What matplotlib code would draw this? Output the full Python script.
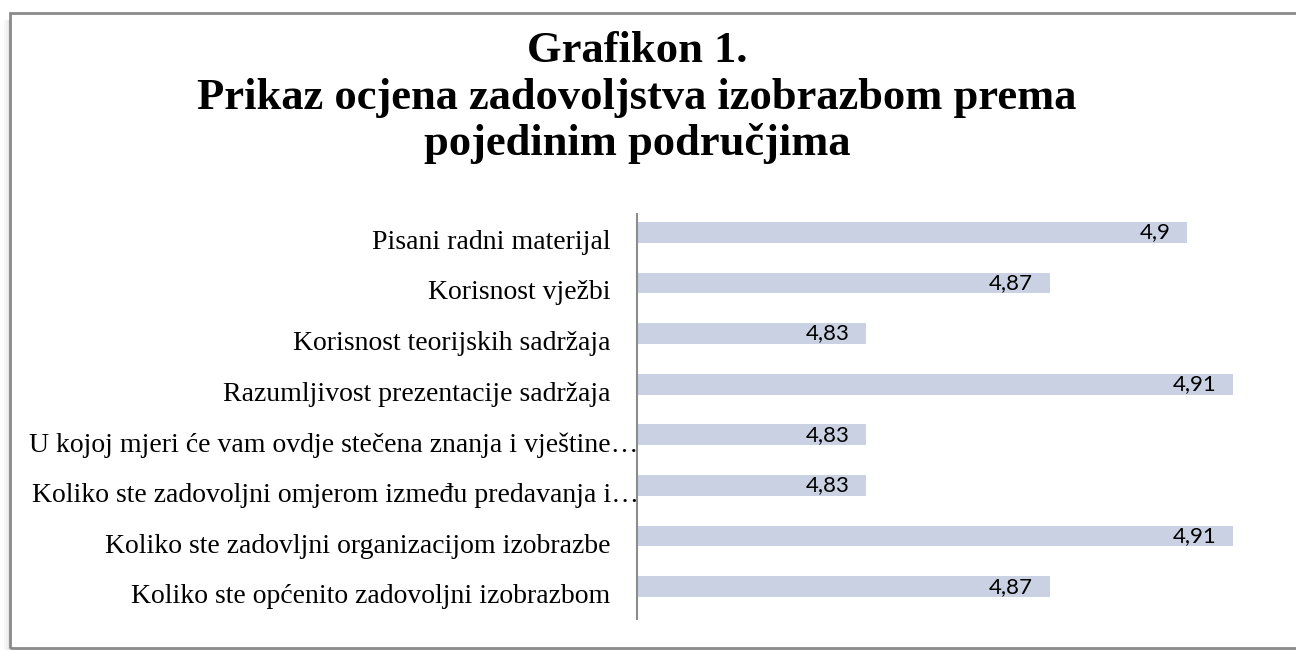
import matplotlib
matplotlib.use("Agg")
import matplotlib.pyplot as plt
from matplotlib.patches import Rectangle
from matplotlib.transforms import ScaledTranslation

categories = [
    "Pisani radni materijal",
    "Korisnost vježbi",
    "Korisnost teorijskih sadržaja",
    "Razumljivost prezentacije sadržaja",
    "U kojoj mjeri će vam ovdje stečena znanja i vještine…",
    "Koliko ste zadovoljni omjerom između predavanja i…",
    "Koliko ste zadovljni organizacijom izobrazbe",
    "Koliko ste općenito zadovoljni izobrazbom",
]
values = [4.9, 4.87, 4.83, 4.91, 4.83, 4.83, 4.91, 4.87]
value_labels = ["4,9", "4,87", "4,83", "4,91", "4,83", "4,83", "4,91", "4,87"]
title_lines = ["Grafikon 1.", "Prikaz ocjena zadovoljstva izobrazbom prema", "pojedinim područjima"]

W, H = 1296, 650
fig = plt.figure(figsize=(W / 100, H / 100), dpi=100)
fig.patch.set_facecolor("white")

# outer frame with light shadow on the left
for k, a in enumerate([0.10, 0.06, 0.03]):
    fig.add_artist(Rectangle(((10 - 2 - 2 * k) / W, 0), 2 / W, (H - 20) / H, transform=fig.transFigure,
                             facecolor="#000000", alpha=a, edgecolor="none"))
fig.add_artist(Rectangle((10 / W, 2 / H), 1.2, (H - 15) / H, transform=fig.transFigure,
                         fill=False, edgecolor="#8a8a8a", linewidth=2.0))

left, right = 637 / W, 1279 / W
bottom, top = 1 - 619 / H, 1 - 214 / H
ax = fig.add_axes([left, bottom, right - left, top - bottom])

y = list(range(len(categories)))
bar_offset = -7 / 50.7
ax.barh([v + bar_offset for v in y], [v - 4.78 for v in values], left=4.78, height=0.41,
        color="#C9D1E3", edgecolor="none", zorder=2)
ax.set_xlim(4.78, 4.92)
ax.set_ylim(len(categories) - 0.5, -0.5)

ax.set_yticks(y)
ax.set_yticklabels(categories, family="Liberation Serif", fontsize=20, color="#000000")
ax.tick_params(axis="y", length=0, pad=19)
ax.set_xticks([])
# truncated labels (ending with an ellipsis) reach up to the axis line
for lab in ax.get_yticklabels():
    if lab.get_text().endswith("…"):
        lab.set_transform(lab.get_transform() + ScaledTranslation(28 / 100, 0, fig.dpi_scale_trans))

for s in ["top", "right", "bottom"]:
    ax.spines[s].set_visible(False)
ax.spines["left"].set_color("#8c8c8c")
ax.spines["left"].set_linewidth(1.5)

off = ScaledTranslation(-17 / 100, 0, fig.dpi_scale_trans)
for yi, v, lab in zip(y, values, value_labels):
    ax.text(v, yi + bar_offset, lab, ha="right", va="center", family="Lato", fontsize=16,
            color="#000000", transform=ax.transData + off, zorder=3)

for i, line in enumerate(title_lines):
    fig.text(637 / W, 1 - (62 + i * 46.5) / H, line, ha="center", va="baseline",
             family="Liberation Serif", fontweight="bold", fontsize=32, color="#000000")

fig.savefig("out.png", dpi=100, facecolor="white")
